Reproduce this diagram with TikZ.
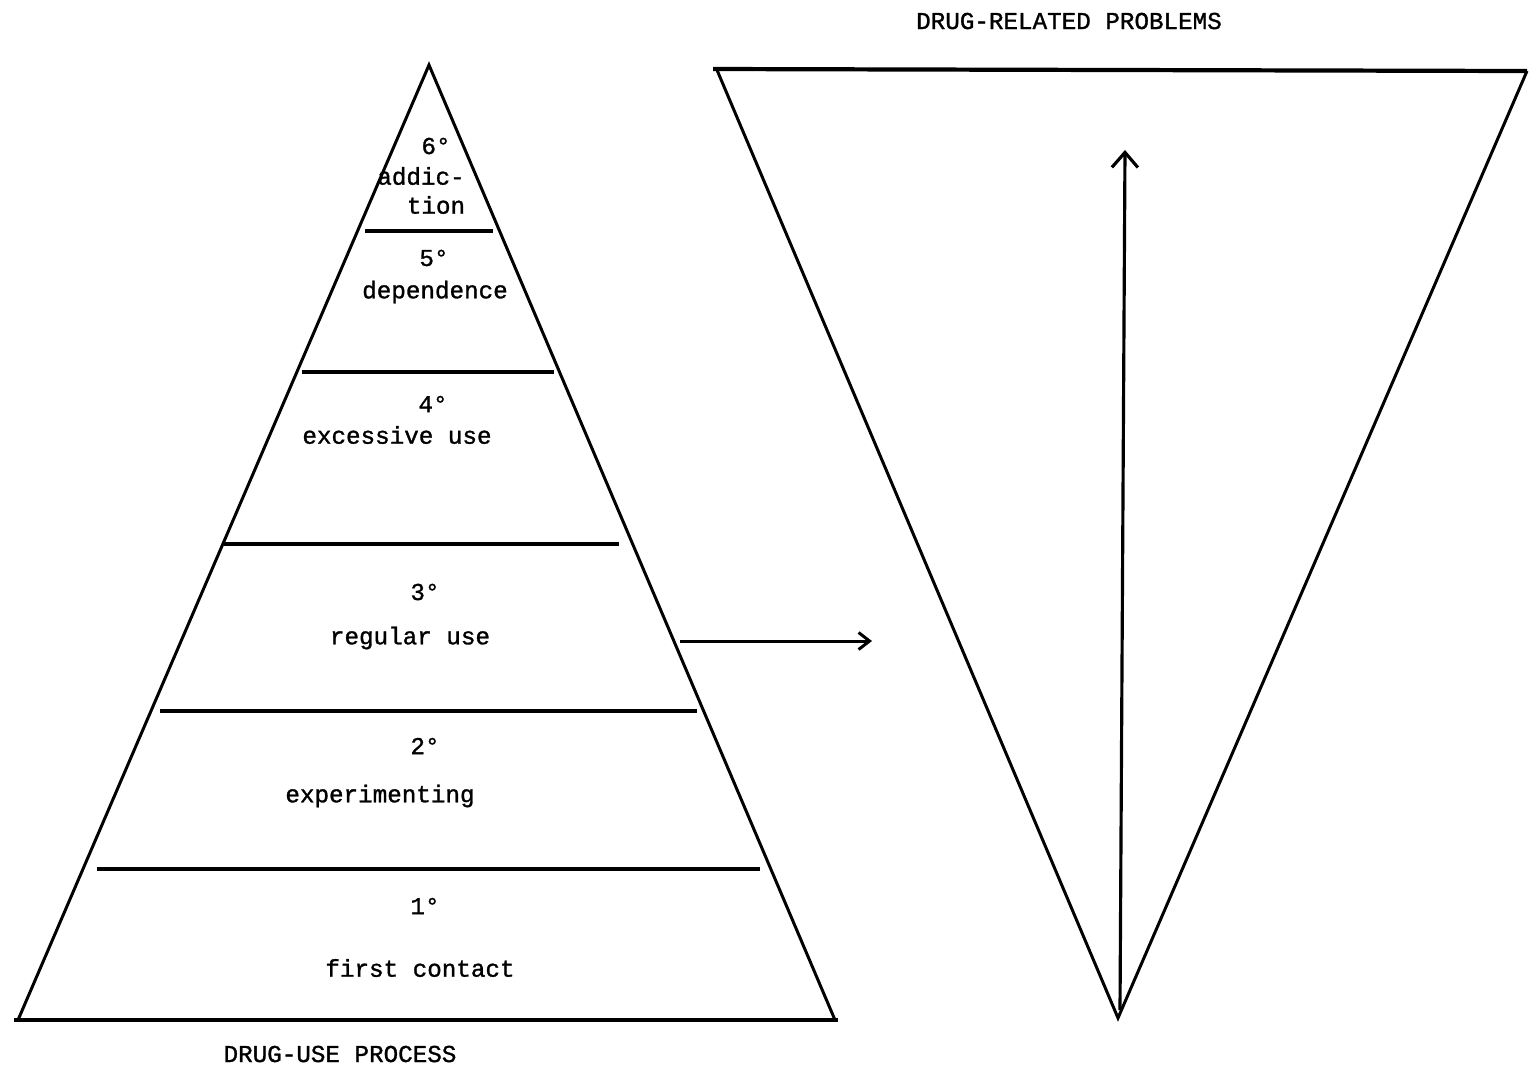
\documentclass[tikz,border=0pt]{standalone}
\usepackage{fontspec}
\setmainfont{Liberation Mono}[FakeBold=1.2]
\usetikzlibrary{arrows.meta}
\begin{document}
\begin{tikzpicture}[x=0.1mm,y=-0.1mm,
  edge/.style={line width=0.85pt,line join=miter},
  divider/.style={line width=1.2pt},
  lbl/.style={inner sep=0pt,font=\fontsize{6.9}{8}\selectfont},
  harr/.style={line width=0.85pt,-{Straight Barb[length=1.1mm,width=1.7mm,line width=0.85pt]}},
  varr/.style={line width=0.9pt,-{Straight Barb[length=1.5mm,width=2.6mm,line width=0.9pt]}}]
\useasboundingbox (0,0) rectangle (1537,1069);
% left pyramid
\coordinate (apex) at (429,65);
\coordinate (bl) at (18,1020);
\coordinate (br) at (835,1020);
\draw[edge] (bl) -- (apex) -- (br);
\coordinate (b1) at (14,1020);
\coordinate (b2) at (838,1020);
\draw[divider] (b1) -- (b2);
\coordinate (d6a) at (365,231); \coordinate (d6b) at (493,231);
\coordinate (d5a) at (302,372); \coordinate (d5b) at (554,372);
\coordinate (d4a) at (224,544); \coordinate (d4b) at (619,544);
\coordinate (d3a) at (160,711); \coordinate (d3b) at (697,711);
\coordinate (d2a) at (97,869);  \coordinate (d2b) at (760,869);
\draw[divider] (d6a) -- (d6b);
\draw[divider] (d5a) -- (d5b);
\draw[divider] (d4a) -- (d4b);
\draw[divider] (d3a) -- (d3b);
\draw[divider] (d2a) -- (d2b);
% labels
\node[lbl] (n6) at (436,146) {6°};
\node[lbl] (t6a) at (421,176) {addic-};
\node[lbl] (t6b) at (436,205) {tion};
\node[lbl] (n5) at (434,258) {5°};
\node[lbl] (t5) at (435,292) {dependence};
\node[lbl] (n4) at (433,404) {4°};
\node[lbl] (t4) at (397,435) {excessive use};
\node[lbl] (n3) at (425,592) {3°};
\node[lbl] (t3) at (410,638) {regular use};
\node[lbl] (n2) at (425,746) {2°};
\node[lbl] (t2) at (380,796) {experimenting};
\node[lbl] (n1) at (425,906) {1°};
\node[lbl] (t1) at (420,968) {first contact};
\node[lbl] (title1) at (340,1054) {DRUG-USE PROCESS};
\node[lbl] (title2) at (1069,21) {DRUG-RELATED PROBLEMS};
% right inverted triangle
\coordinate (tl) at (717,70);
\coordinate (tr) at (1527,71);
\coordinate (bot) at (1118,1018);
\coordinate (tl0) at (713,69);
\draw[edge] (tl) -- (bot) -- (tr);
\draw[divider] (tl0) -- (tr);
% arrows
\coordinate (h1) at (680,641);
\coordinate (h2) at (872,641);
\draw[harr] (h1) -- (h2);
\coordinate (v1) at (1120,1010);
\coordinate (v2) at (1125,150);
\draw[varr] (v1) -- (v2);
\end{tikzpicture}
\end{document}
